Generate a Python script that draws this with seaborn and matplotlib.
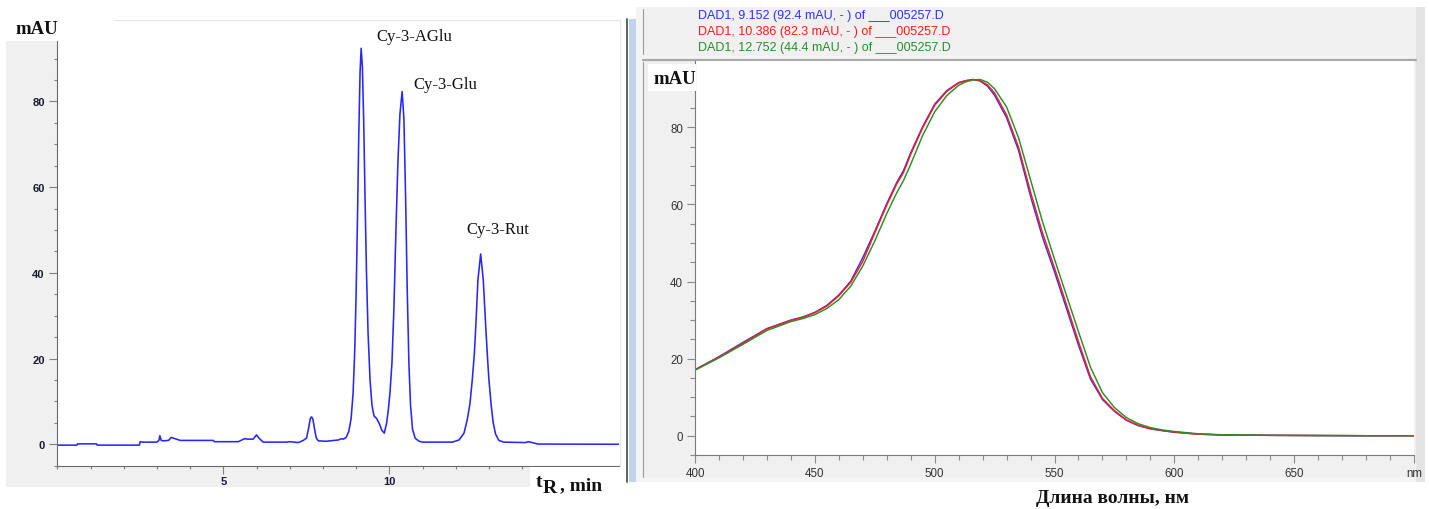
import matplotlib
matplotlib.use("Agg")
import matplotlib.pyplot as plt
from matplotlib.patches import Rectangle
from matplotlib.lines import Line2D
from matplotlib.ticker import MultipleLocator
import pandas as pd
import seaborn as sns

# ---------------------------------------------------------------------------
# Chromatogram: retention time (min) vs. absorbance (mAU), flank/baseline points
rt_min = [0.00, 0.59, 0.61, 1.18, 1.20, 2.47, 2.50, 2.55, 3.00, 3.06, 3.09, 3.13, 3.20,
          3.35, 3.43, 3.55, 3.70, 4.70, 4.73, 5.45, 5.64, 5.74, 5.90, 6.00, 6.08, 6.20,
          6.90, 7.00, 7.26, 7.41, 7.51, 7.57, 7.62, 7.66, 7.70, 7.75, 7.80, 7.86, 8.10,
          8.46, 8.56, 8.62, 8.70, 8.78, 8.85, 8.91, 8.96, 9.00, 9.04, 9.08, 9.12,
          9.19, 9.23, 9.27, 9.31, 9.36, 9.42, 9.48, 9.54, 9.62, 9.70, 9.78, 9.85, 9.92,
          9.97, 10.02, 10.08, 10.14, 10.20, 10.26, 10.32, 10.44, 10.49, 10.54, 10.59,
          10.64, 10.70, 10.78, 10.90, 11.00, 11.90, 12.10, 12.25, 12.35, 12.43, 12.50,
          12.56, 12.60, 12.67, 12.83, 12.91, 12.96, 13.00, 13.07, 13.13, 13.20, 13.30,
          13.45, 14.10, 14.19, 14.30, 14.48, 16.92]
signal_mau = [-0.2, -0.2, 0.1, 0.1, -0.2, -0.2, 0.6, 0.5, 0.5, 0.9, 2.0, 0.9, 0.8,
              0.9, 1.6, 1.3, 0.9, 0.9, 0.6, 0.6, 1.3, 1.2, 1.2, 2.2, 1.4, 0.5,
              0.5, 0.6, 0.4, 0.9, 1.5, 3.8, 6.0, 6.4, 5.8, 3.5, 1.5, 0.8, 0.7,
              1.0, 1.3, 1.2, 1.6, 3.0, 6.0, 12.0, 22.0, 35.0, 52.0, 72.0, 87.0,
              88.0, 75.0, 57.0, 41.0, 26.0, 15.0, 9.0, 6.6, 6.0, 4.8, 3.2, 2.6, 5.0,
              8.0, 12.0, 19.0, 32.0, 50.0, 66.0, 77.0, 76.0, 58.0, 36.0, 19.0,
              9.0, 3.5, 1.4, 0.7, 0.5, 0.5, 1.0, 2.6, 5.8, 9.5, 15.1,
              21.0, 26.7, 38.4, 38.4, 26.7, 20.0, 15.1, 9.0, 5.0, 2.4, 0.9,
              0.5, 0.4, 0.6, 0.4, 0.05, 0.0]

# Identified anthocyanin peaks
peak_names = ["Cy-3-AGlu", "Cy-3-Glu", "Cy-3-Rut"]
peak_rt = [9.152, 10.386, 12.752]
peak_mau = [92.4, 82.3, 44.4]

# UV-Vis spectra taken at the three peak apexes
wavelength_nm = [400, 410, 420, 430, 440, 445, 450, 455, 460, 465, 470, 475, 480, 484,
                 487, 490, 495, 500, 505, 510, 513, 516, 519, 522, 525, 530, 535, 540,
                 545, 550, 555, 560, 565, 570, 575, 580, 585, 590, 595, 600, 610, 620,
                 640, 660, 680, 700]
spec_aglu = [17.1, 20.5, 24.2, 27.8, 30.0, 30.8, 32.0, 33.8, 36.5, 40.1, 46.2, 53.0, 60.2,
             65.5, 68.8, 73.4, 80.2, 86.0, 89.5, 91.6, 92.1, 92.4, 92.0, 90.7, 88.3,
             82.5, 74.0, 62.1, 51.5, 42.5, 33.0, 23.5, 14.7, 9.4, 6.3, 4.0, 2.6, 1.8,
             1.3, 0.9, 0.4, 0.2, 0.1, 0.05, 0.0, 0.0]
spec_glu = [17.1, 20.4, 24.0, 27.7, 29.9, 30.7, 31.9, 33.6, 36.3, 39.8, 45.2, 52.6, 59.8,
            65.1, 68.3, 73.0, 79.9, 85.7, 89.3, 91.5, 92.1, 92.4, 92.1, 91.0, 88.9,
            83.2, 74.8, 63.2, 52.6, 43.5, 34.0, 24.4, 15.3, 9.7, 6.5, 4.1, 2.7, 1.8,
            1.35, 0.95, 0.4, 0.2, 0.1, 0.05, 0.0, 0.0]
spec_rut = [17.0, 20.2, 23.7, 27.3, 29.6, 30.4, 31.4, 33.0, 35.3, 38.8, 44.0, 50.5, 57.6,
            62.8, 66.2, 70.4, 77.9, 84.0, 88.2, 90.9, 91.8, 92.3, 92.4, 91.7, 90.0,
            85.3, 77.3, 66.4, 55.5, 45.8, 36.4, 27.0, 17.8, 11.2, 7.3, 4.7, 3.1, 2.1,
            1.5, 1.1, 0.5, 0.25, 0.1, 0.05, 0.0, 0.0]

trace_colors = ["#3030ff", "#ff1a1a", "#2a8c2a"]

# ---------------------------------------------------------------------------
sns.set_theme(style="white")
plt.rcParams["font.family"] = ["Liberation Sans", "DejaVu Sans"]

W, H = 1429, 510
fig = plt.figure(figsize=(W / 100, H / 100), dpi=100, facecolor="white")


def fx(px):
    return px / W


def fy(py):
    return 1 - py / H


def box(x0, y0, x1, y1, color, z=-1, lw=0):
    fig.patches.append(Rectangle((fx(x0), fy(y1)), fx(x1) - fx(x0), fy(y0) - fy(y1),
                                 transform=fig.transFigure, facecolor=color,
                                 edgecolor="none", zorder=z, lw=lw))


def vline(x, y0, y1, color, lw=1.0, z=-0.5):
    fig.lines.append(Line2D([fx(x), fx(x)], [fy(y0), fy(y1)], transform=fig.transFigure,
                            color=color, lw=lw, zorder=z))


def hline(y, x0, x1, color, lw=1.0, z=-0.5):
    fig.lines.append(Line2D([fx(x0), fx(x1)], [fy(y), fy(y)], transform=fig.transFigure,
                            color=color, lw=lw, zorder=z))


GREY = "#f0f0f0"

# --- window chrome, left panel
box(6, 42, 57.3, 488, GREY)
box(6, 466.7, 620, 488, GREY)
hline(20.5, 114, 619, "#e6e6e6", lw=0.8)
vline(619.5, 20, 467, "#e8e8e8", lw=0.8)
vline(626.7, 20, 483, "#555555", lw=1.3)
box(629, 20, 636, 483, "#bfd3ea")

# --- window chrome, right panel
box(636, 8, 1425, 483, "#f4f4f4")
box(643, 8, 1416, 57, GREY)
vline(642.5, 10, 55, "#9a9a9a", lw=0.8)
hline(61, 643, 1416, "#a8a8a8", lw=1.6)
box(643, 62, 1416, 478, GREY)
vline(642.5, 63, 478, "#9a9a9a", lw=0.8)
box(1416, 8, 1425, 483, "#e4e4e4")

# ---------------------------------------------------------------------------
# Chromatogram axes
ax1 = fig.add_axes([fx(57.3), fy(466.7), fx(619) - fx(57.3), fy(42) - fy(466.7)])
ax1.set_facecolor("white")
chrom = pd.DataFrame({"rt": rt_min + peak_rt, "mAU": signal_mau + peak_mau})
chrom = chrom.sort_values("rt")
sns.lineplot(data=chrom, x="rt", y="mAU", ax=ax1, color="#2626ff", lw=1.15,
             estimator=None, sort=False)
ax1.set_xlim(0, (619 - 57.3) / 33.2)
ax1.set_ylim(-5, 94.1)
ax1.xaxis.set_minor_locator(MultipleLocator(1))
ax1.yaxis.set_minor_locator(MultipleLocator(5))
ax1.set_xlabel("")
ax1.set_ylabel("")
for s in ("top", "right"):
    ax1.spines[s].set_visible(False)
for s in ("left", "bottom"):
    ax1.spines[s].set_color("#6a6a6a")
    ax1.spines[s].set_linewidth(0.8)
ax1.tick_params(which="both", bottom=True, left=True, color="#808080", width=0.8)
ax1.tick_params(which="major", length=5.5, labelsize=8, labelcolor="#1c1c30")
ax1.tick_params(axis="y", which="major", pad=3.5)
ax1.tick_params(axis="x", which="major", pad=2)
ax1.tick_params(which="minor", length=2.5)
ax1.set_xticks([5, 10])
ax1.set_xticklabels(["5", "10"])
ax1.set_yticks([0, 20, 40, 60, 80])
ax1.set_yticklabels(["0", "20", "40", "60", "80"])
for lab in ax1.get_xticklabels() + ax1.get_yticklabels():
    lab.set_fontweight("bold")

label_offsets = [(0.45, 2.8), (0.33, 1.7), (-0.44, 5.8)]
for name, rt, h, (dx, dy) in zip(peak_names, peak_rt, peak_mau, label_offsets):
    ax1.text(rt + dx, h + dy, name, ha="left", va="center", fontsize=12,
             family="Liberation Serif", color="#111111", clip_on=False)

# axis captions of the chromatogram
fig.text(fx(15), fy(30), "mAU", ha="left", va="center", fontsize=13.5,
         family="Liberation Serif", fontweight="bold", color="#111111")
box(530, 468, 620, 494, "white", z=5)
fig.text(fx(535.5), fy(487), "t", ha="left", va="baseline", fontsize=14,
         family="Liberation Serif", fontweight="bold", color="#111111", zorder=6)
fig.text(fx(543), fy(493), "R", ha="left", va="baseline", fontsize=14,
         family="Liberation Serif", fontweight="bold", color="#111111", zorder=6)
fig.text(fx(560), fy(490), ", min", ha="left", va="baseline", fontsize=14,
         family="Liberation Serif", fontweight="bold", color="#111111", zorder=6)

# ---------------------------------------------------------------------------
# Spectra axes
ax2 = fig.add_axes([fx(695), fy(456), fx(1414) - fx(695), fy(62) - fy(456)])
ax2.set_facecolor("white")
spectra = pd.concat([
    pd.DataFrame({"nm": wavelength_nm, "mAU": vals, "trace": name})
    for name, vals in zip(peak_names, [spec_aglu, spec_glu, spec_rut])
])
sns.lineplot(data=spectra, x="nm", y="mAU", hue="trace", palette=trace_colors, ax=ax2,
             lw=1.05, estimator=None, sort=False, legend=False)
ax2.set_xlim(400, 700)
ax2.set_ylim(-5, 97.2)
ax2.xaxis.set_minor_locator(MultipleLocator(10))
ax2.yaxis.set_minor_locator(MultipleLocator(5))
ax2.set_xticks(range(400, 701, 50))
ax2.set_xticklabels(["400", "450", "500", "550", "600", "650", "nm"])
ax2.set_yticks([0, 20, 40, 60, 80])
ax2.set_yticklabels(["0", "20", "40", "60", "80"])
ax2.set_xlabel("")
ax2.set_ylabel("")
for s in ("top", "right"):
    ax2.spines[s].set_visible(False)
for s in ("left", "bottom"):
    ax2.spines[s].set_color("#7a7a7a")
    ax2.spines[s].set_linewidth(0.8)
ax2.tick_params(which="both", bottom=True, left=True, color="#8a8a8a", width=0.8)
ax2.tick_params(which="major", length=5.5, labelsize=8.3, labelcolor="#333333", pad=3)
ax2.tick_params(which="minor", length=3.5)

# header lines of the spectra window
for i, (rt, h, c) in enumerate(zip(peak_rt, peak_mau, trace_colors)):
    fig.text(fx(698), fy(16.5 + 15.6 * i),
             f"DAD1, {rt:.3f} ({h:.1f} mAU, - ) of ___005257.D",
             ha="left", va="center", fontsize=9.0, color=c)

box(648, 65, 696, 92, "white", z=5)
fig.text(fx(653), fy(79), "mAU", ha="left", va="center", fontsize=13.5,
         family="Liberation Serif", fontweight="bold", color="#111111", zorder=6)
fig.text(fx(1113), fy(499), "Длина волны, нм", ha="center", va="center", fontsize=14,
         family="Liberation Serif", fontweight="bold", color="#111111")

fig.savefig("out.png", dpi=100, facecolor="white")
